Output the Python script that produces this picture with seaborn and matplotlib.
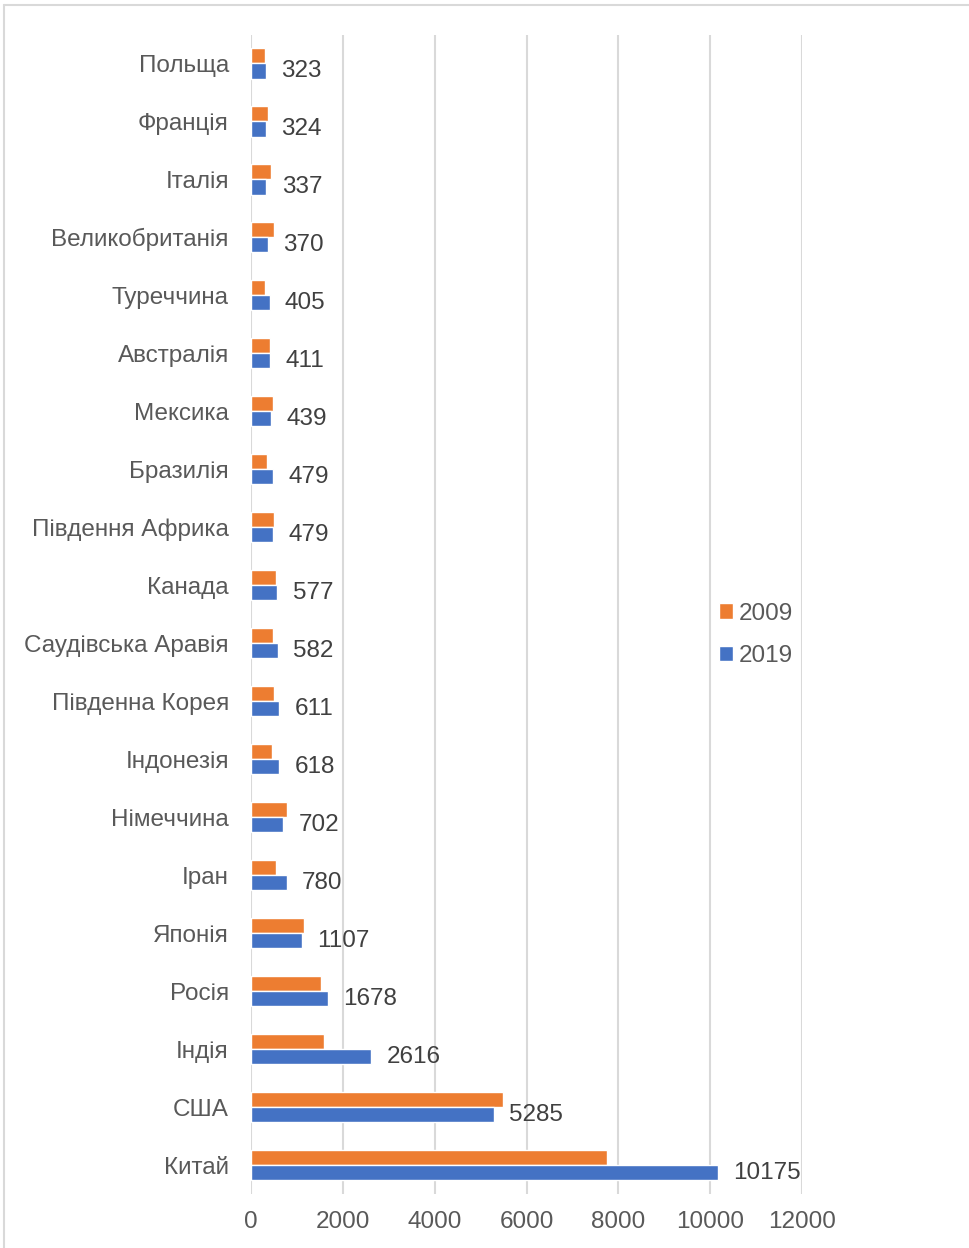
import matplotlib
matplotlib.use("Agg")
import matplotlib.pyplot as plt
import seaborn as sns
import pandas as pd
from matplotlib.lines import Line2D

countries = ["Польща", "Франція", "Італія", "Великобританія", "Туреччина",
             "Австралія", "Мексика", "Бразилія", "Південня Африка", "Канада",
             "Саудівська Аравія", "Південна Корея", "Індонезія", "Німеччина",
             "Іран", "Японія", "Росія", "Індія", "США", "Китай"]
values_2009 = [300, 377, 429, 509, 307, 410, 484, 344, 509, 547,
               469, 505, 447, 783, 537, 1160, 1525, 1600, 5490, 7755]
values_2019 = [323, 324, 337, 370, 405, 411, 439, 479, 479, 577,
               582, 611, 618, 702, 780, 1107, 1678, 2616, 5285, 10175]
years = ["2009", "2019"]
x_ticks = [0, 2000, 4000, 6000, 8000, 10000, 12000]

df = pd.DataFrame({
    "country": countries * 2,
    "value": values_2009 + values_2019,
    "year": [years[0]] * len(countries) + [years[1]] * len(countries),
})

sns.set_theme(style="white")
plt.rcParams['font.family'] = ['Liberation Sans', 'DejaVu Sans']
text_color = "#595959"
fs = 17.5

fig = plt.figure(figsize=(9.7, 12.48), dpi=100)
top_px, bot_px = 34.5, 1194
ax = fig.add_axes([251 / 970, 1 - bot_px / 1248, 551 / 970, (bot_px - top_px) / 1248])

sns.barplot(data=df, y="country", x="value", hue="year", order=countries,
            hue_order=years, palette=["#ED7D31", "#4472C4"], orient="h",
            width=0.52, saturation=1, ax=ax, legend=True)

ax.set_xlim(0, 12000)
ax.set_xticks(x_ticks)
ax.set_xticklabels([str(t) for t in x_ticks], fontsize=fs, color=text_color)
ax.tick_params(axis="y", labelsize=fs, labelcolor=text_color, length=0, pad=16)
ax.tick_params(axis="x", length=0, pad=12.5)
ax.set_xlabel("")
ax.set_ylabel("")
ax.grid(axis="x", color="#d9d9d9", linewidth=1.5)
ax.set_axisbelow(True)
for s in ax.spines.values():
    s.set_visible(False)

# data labels for 2019
blue_container = ax.containers[1]
ax.bar_label(blue_container, labels=[str(v) for v in values_2019], padding=11,
             fontsize=fs, color="#404040", label_type="edge")
for t in ax.texts:
    t.set_va("center")

leg = ax.legend(loc="center left", bbox_to_anchor=(697 / 970, 1 - 635 / 1248),
                bbox_transform=fig.transFigure, frameon=False, fontsize=fs,
                handlelength=0.6, handleheight=0.6, handletextpad=0.2,
                labelspacing=0.85, labelcolor=text_color)

# outer border
fig.add_artist(Line2D([4 / 970, 4 / 970], [0, 1 - 5 / 1248], transform=fig.transFigure,
                      color="#d9d9d9", linewidth=1.5))
fig.add_artist(Line2D([4 / 970, 1], [1 - 5 / 1248, 1 - 5 / 1248], transform=fig.transFigure,
                      color="#d9d9d9", linewidth=1.5))

fig.savefig("out.png", dpi=100)
